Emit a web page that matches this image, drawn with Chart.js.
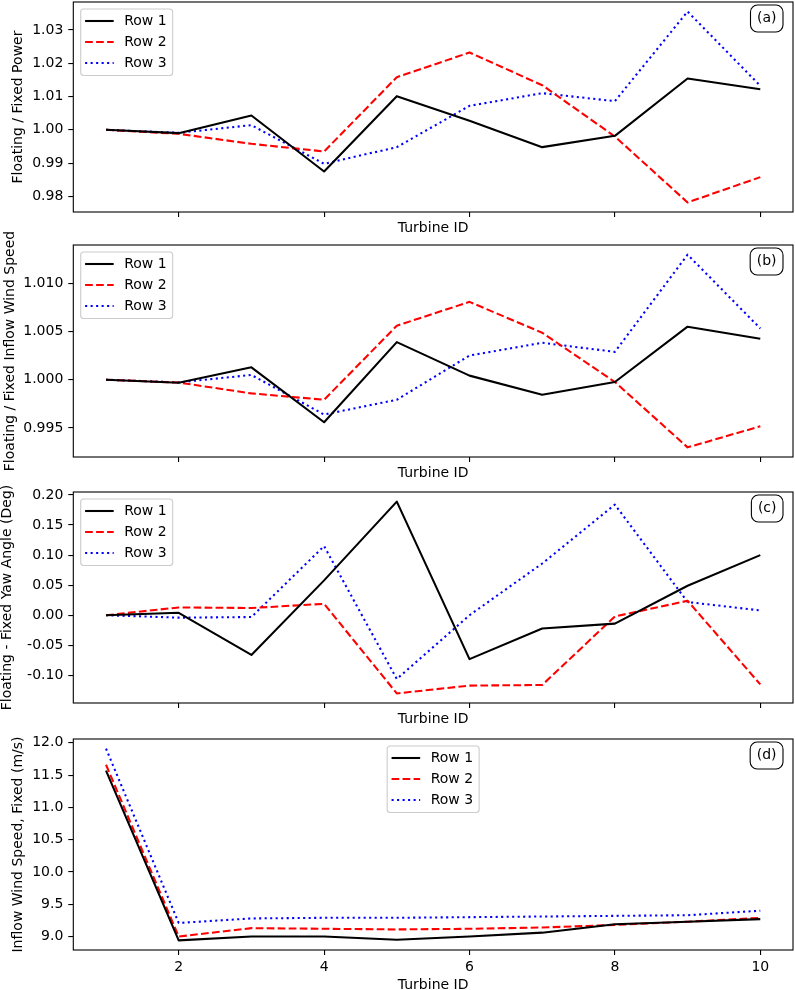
<!DOCTYPE html>
<html>
<head>
<meta charset="utf-8">
<script src="https://cdn.jsdelivr.net/npm/chart.js@4.4.1/dist/chart.umd.min.js"></script>
<style>
  body { margin: 0; background: #fff; }
  #wrap { position: relative; width: 795px; height: 990px; }
  #wrap canvas { position: absolute; left: 0; }
</style>
</head>
<body>
<div id="wrap">
  <canvas id="chartA" width="795" height="240" style="top:0px"></canvas>
  <canvas id="chartB" width="795" height="257" style="top:228px"></canvas>
  <canvas id="chartC" width="795" height="245" style="top:485px"></canvas>
  <canvas id="chartD" width="795" height="260" style="top:730px"></canvas>
</div>
<script>
// x axis
var turbineIds = [1, 2, 3, 4, 5, 6, 7, 8, 9, 10];
var turbineTicks = [2, 4, 6, 8, 10];
var rowNames = ['Row 1', 'Row 2', 'Row 3'];

// (a) floating / fixed power
var powerRow1 = [1.0000, 0.9990, 1.0043, 0.9875, 1.0101, 1.0027, 0.9948, 0.9982, 1.0154, 1.0122];
var powerRow2 = [1.0000, 0.9988, 0.9958, 0.9935, 1.0158, 1.0232, 1.0134, 0.9980, 0.9782, 0.9858];
var powerRow3 = [1.0000, 0.9991, 1.0014, 0.9898, 0.9948, 1.0072, 1.0110, 1.0086, 1.0355, 1.0132];
var powerTicks = [0.98, 0.99, 1.00, 1.01, 1.02, 1.03];

// (b) floating / fixed inflow wind speed
var windRow1 = [1.0000, 0.99969, 1.00128, 0.99559, 1.00389, 1.00042, 0.99844, 0.99976, 1.00549, 1.00424];
var windRow2 = [1.0000, 0.99970, 0.99858, 0.99792, 1.00559, 1.00806, 1.00486, 0.99976, 0.99299, 0.99517];
var windRow3 = [1.0000, 0.99972, 1.00049, 0.99639, 0.99792, 1.00250, 1.00382, 1.00288, 1.01295, 1.00531];
var windTicks = [0.995, 1.000, 1.005, 1.010];

// (c) floating - fixed yaw angle
var yawRow1 = [0.000, 0.004, -0.066, 0.058, 0.189, -0.073, -0.022, -0.014, 0.049, 0.100];
var yawRow2 = [0.000, 0.013, 0.012, 0.019, -0.130, -0.117, -0.116, -0.002, 0.024, -0.115];
var yawRow3 = [0.000, -0.004, -0.003, 0.115, -0.106, 0.000, 0.086, 0.184, 0.022, 0.008];
var yawTicks = [-0.10, -0.05, 0.00, 0.05, 0.10, 0.15, 0.20];

// (d) inflow wind speed, fixed
var inflowRow1 = [11.57, 8.94, 9.00, 9.00, 8.95, 9.00, 9.06, 9.19, 9.23, 9.27];
var inflowRow2 = [11.66, 9.00, 9.13, 9.12, 9.11, 9.12, 9.14, 9.18, 9.23, 9.29];
var inflowRow3 = [11.91, 9.21, 9.28, 9.29, 9.29, 9.30, 9.31, 9.32, 9.33, 9.40];
var inflowTicks = [9.0, 9.5, 10.0, 10.5, 11.0, 11.5, 12.0];

var FONT = '"DejaVu Sans", sans-serif';
Chart.defaults.font.family = FONT;
Chart.defaults.font.size = 14;
Chart.defaults.color = '#000';

var rowStyles = [
    { color: '#000000', dash: [] },
    { color: '#ff0000', dash: [7.7, 3.3] },
    { color: '#0000ff', dash: [2.1, 3.4] }
];

function roundRectPath(ctx, x, y, w, h, r) {
    ctx.beginPath();
    ctx.moveTo(x + r, y);
    ctx.lineTo(x + w - r, y);
    ctx.arcTo(x + w, y, x + w, y + r, r);
    ctx.lineTo(x + w, y + h - r);
    ctx.arcTo(x + w, y + h, x + w - r, y + h, r);
    ctx.lineTo(x + r, y + h);
    ctx.arcTo(x, y + h, x, y + h - r, r);
    ctx.lineTo(x, y + r);
    ctx.arcTo(x, y, x + r, y, r);
    ctx.closePath();
}

// axes box, legend and panel tag drawn over the lines
var panelDecor = {
    id: 'panelDecor',
    afterDatasetsDraw: function (chart, args, opts) {
        var ctx = chart.ctx, area = chart.chartArea;
        ctx.save();
        ctx.strokeStyle = '#000';
        ctx.lineWidth = 1.1;
        ctx.strokeRect(area.left, area.top, area.right - area.left, area.bottom - area.top);

        // legend
        ctx.font = '14px ' + FONT;
        var textW = 0;
        chart.data.datasets.forEach(function (ds) {
            textW = Math.max(textW, ctx.measureText(ds.label).width);
        });
        var w = 43.5 + textW + 6, h = 66.5;
        var x = opts.legendAlign === 'center' ? (area.left + area.right) / 2 - w / 2 : area.left + 7.4;
        var y = area.top + 7;
        roundRectPath(ctx, x, y, w, h, 3);
        ctx.fillStyle = 'rgba(255,255,255,0.8)';
        ctx.fill();
        ctx.strokeStyle = '#cccccc';
        ctx.lineWidth = 1.1;
        ctx.stroke();
        chart.data.datasets.forEach(function (ds, i) {
            var cy = y + 12 + i * 21;
            ctx.beginPath();
            ctx.setLineDash(ds.borderDash || []);
            ctx.strokeStyle = ds.borderColor;
            ctx.lineWidth = ds.borderWidth;
            ctx.moveTo(x + 4.4, cy);
            ctx.lineTo(x + 33, cy);
            ctx.stroke();
            ctx.setLineDash([]);
            ctx.fillStyle = '#000';
            ctx.textAlign = 'left';
            ctx.textBaseline = 'middle';
            ctx.fillText(ds.label, x + 43.5, cy);
        });

        // panel tag
        var tw = ctx.measureText(opts.tag).width;
        var bw = tw + 13, bh = 27;
        var bx = area.right - 10 - bw, by = area.top + 3;
        roundRectPath(ctx, bx, by, bw, bh, 7);
        ctx.fillStyle = '#fff';
        ctx.fill();
        ctx.strokeStyle = '#000';
        ctx.lineWidth = 1.1;
        ctx.stroke();
        ctx.fillStyle = '#000';
        ctx.textAlign = 'center';
        ctx.textBaseline = 'middle';
        ctx.fillText(opts.tag, bx + bw / 2, by + bh / 2);
        ctx.restore();
    }
};

function makePanel(p) {
    var all = [].concat(p.rows[0], p.rows[1], p.rows[2]);
    var lo = Math.min.apply(null, all), hi = Math.max.apply(null, all);
    var pad = (hi - lo) * 0.05;
    var datasets = p.rows.map(function (vals, i) {
        return {
            label: rowNames[i],
            data: turbineIds.map(function (t, k) { return { x: t, y: vals[k] }; }),
            borderColor: rowStyles[i].color,
            borderDash: rowStyles[i].dash,
            borderWidth: 2.08,
            borderJoinStyle: 'round',
            pointRadius: 0,
            tension: 0,
            fill: false
        };
    });
    return new Chart(document.getElementById(p.id).getContext('2d'), {
        type: 'line',
        data: { datasets: datasets },
        plugins: [panelDecor],
        options: {
            responsive: false,
            animation: false,
            layout: { padding: { top: p.padTop, right: 2, left: 0, bottom: 0 } },
            plugins: {
                legend: { display: false },
                tooltip: { enabled: false },
                panelDecor: { tag: p.tag, legendAlign: p.legendAlign }
            },
            scales: {
                x: {
                    type: 'linear',
                    min: 0.55,
                    max: 10.45,
                    afterBuildTicks: function (s) { s.ticks = turbineTicks.map(function (v) { return { value: v }; }); },
                    afterFit: function (s) { s.height = p.xHeight; s.paddingLeft = 0; s.paddingRight = 0; },
                    grid: { drawOnChartArea: false, drawTicks: true, tickLength: 5, color: '#000', lineWidth: 1.1 },
                    border: { display: false },
                    ticks: { display: p.showX, autoSkip: false, maxRotation: 0, padding: 4, callback: function (v) { return v; } },
                    title: { display: true, text: 'Turbine ID', padding: { top: 0, bottom: p.xTitlePad } }
                },
                y: {
                    min: lo - pad,
                    max: hi + pad,
                    afterBuildTicks: function (s) { s.ticks = p.ticks.map(function (v) { return { value: v }; }); },
                    afterFit: function (s) { s.width = 73.3; s.paddingTop = 0; s.paddingBottom = 0; },
                    grid: { drawOnChartArea: false, drawTicks: true, tickLength: 5, color: '#000', lineWidth: 1.1 },
                    border: { display: false },
                    ticks: { autoSkip: false, padding: 5, callback: function (v) { return v.toFixed(p.decimals); } },
                    title: { display: true, text: p.yTitle, padding: { top: p.yTitlePad, bottom: 0 } }
                }
            }
        }
    });
}

makePanel({ id: 'chartA', rows: [powerRow1, powerRow2, powerRow3], ticks: powerTicks, decimals: 2,
    yTitle: 'Floating / Fixed Power', tag: '(a)', legendAlign: 'left',
    padTop: 2, xHeight: 28, xTitlePad: 3, yTitlePad: 9.6, showX: false });
makePanel({ id: 'chartB', rows: [windRow1, windRow2, windRow3], ticks: windTicks, decimals: 3,
    yTitle: 'Floating / Fixed Inflow Wind Speed', tag: '(b)', legendAlign: 'left',
    padTop: 17, xHeight: 28, xTitlePad: 3, yTitlePad: 1.6, showX: false });
makePanel({ id: 'chartC', rows: [yawRow1, yawRow2, yawRow3], ticks: yawTicks, decimals: 2,
    yTitle: 'Floating - Fixed Yaw Angle (Deg)', tag: '(c)', legendAlign: 'left',
    padTop: 7, xHeight: 27, xTitlePad: 2, yTitlePad: -0.9, showX: false });
makePanel({ id: 'chartD', rows: [inflowRow1, inflowRow2, inflowRow3], ticks: inflowTicks, decimals: 1,
    yTitle: 'Inflow Wind Speed, Fixed (m/s)', tag: '(d)', legendAlign: 'center',
    padTop: 9, xHeight: 40, xTitlePad: -3.4, yTitlePad: 10, showX: true });
</script>
</body>
</html>
